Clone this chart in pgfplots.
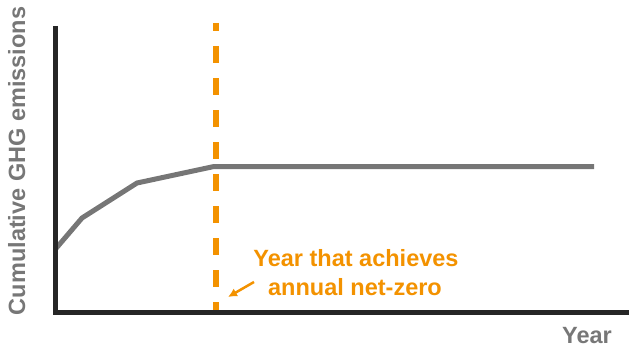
\documentclass[border=0pt]{standalone}
\usepackage{pgfplots}
\pgfplotsset{compat=1.18}
\usetikzlibrary{arrows.meta}
\usepackage{fontspec}
\setmainfont{Liberation Sans}
\definecolor{axisdark}{HTML}{262626}
\definecolor{linegray}{HTML}{767676}
\definecolor{txtgray}{HTML}{777777}
\definecolor{orng}{HTML}{F39200}
\begin{document}
\begin{tikzpicture}
\useasboundingbox (0,0) rectangle (629pt,349pt);
\begin{axis}[
  x=1pt, y=1pt,
  xmin=0, xmax=629, ymin=0, ymax=349,
  anchor=origin, at={(0pt,0pt)},
  hide axis, clip=false,
]
% dashed net-zero year line
\addplot[orng, line width=6pt, dash pattern=on 17pt off 15pt, dash phase=9pt]
  coordinates {(216,326) (216,35)};
% cumulative emissions
\addplot[linegray, line width=5pt, line join=round]
  coordinates {(55.5,100) (82,131) (137,166) (214,182.5) (594,182.5)};
% axis spines
\draw[axisdark, line width=5pt] (axis cs:55.5,323) -- (axis cs:55.5,36.5) -- (axis cs:629,36.5);
% annotation
\draw[orng, line width=2.5pt, -{Latex[length=9pt,width=9pt]}] (axis cs:254,67) -- (axis cs:228,52);
\node[orng, anchor=base, inner sep=0pt, font=\fontsize{23.5}{29}\selectfont\bfseries] at (axis cs:356,83) {Year that achieves};
\node[orng, anchor=base, inner sep=0pt, font=\fontsize{23.5}{29}\selectfont\bfseries] at (axis cs:355,54) {annual net-zero};
\node[txtgray, anchor=base east, inner sep=0pt, font=\fontsize{23.5}{29}\selectfont\bfseries] at (axis cs:612,6) {Year};
\node[txtgray, rotate=90, anchor=base, inner sep=0pt, font=\fontsize{23.5}{29}\selectfont\bfseries] at (axis cs:25,188) {Cumulative GHG emissions};
\end{axis}
\end{tikzpicture}
\end{document}
